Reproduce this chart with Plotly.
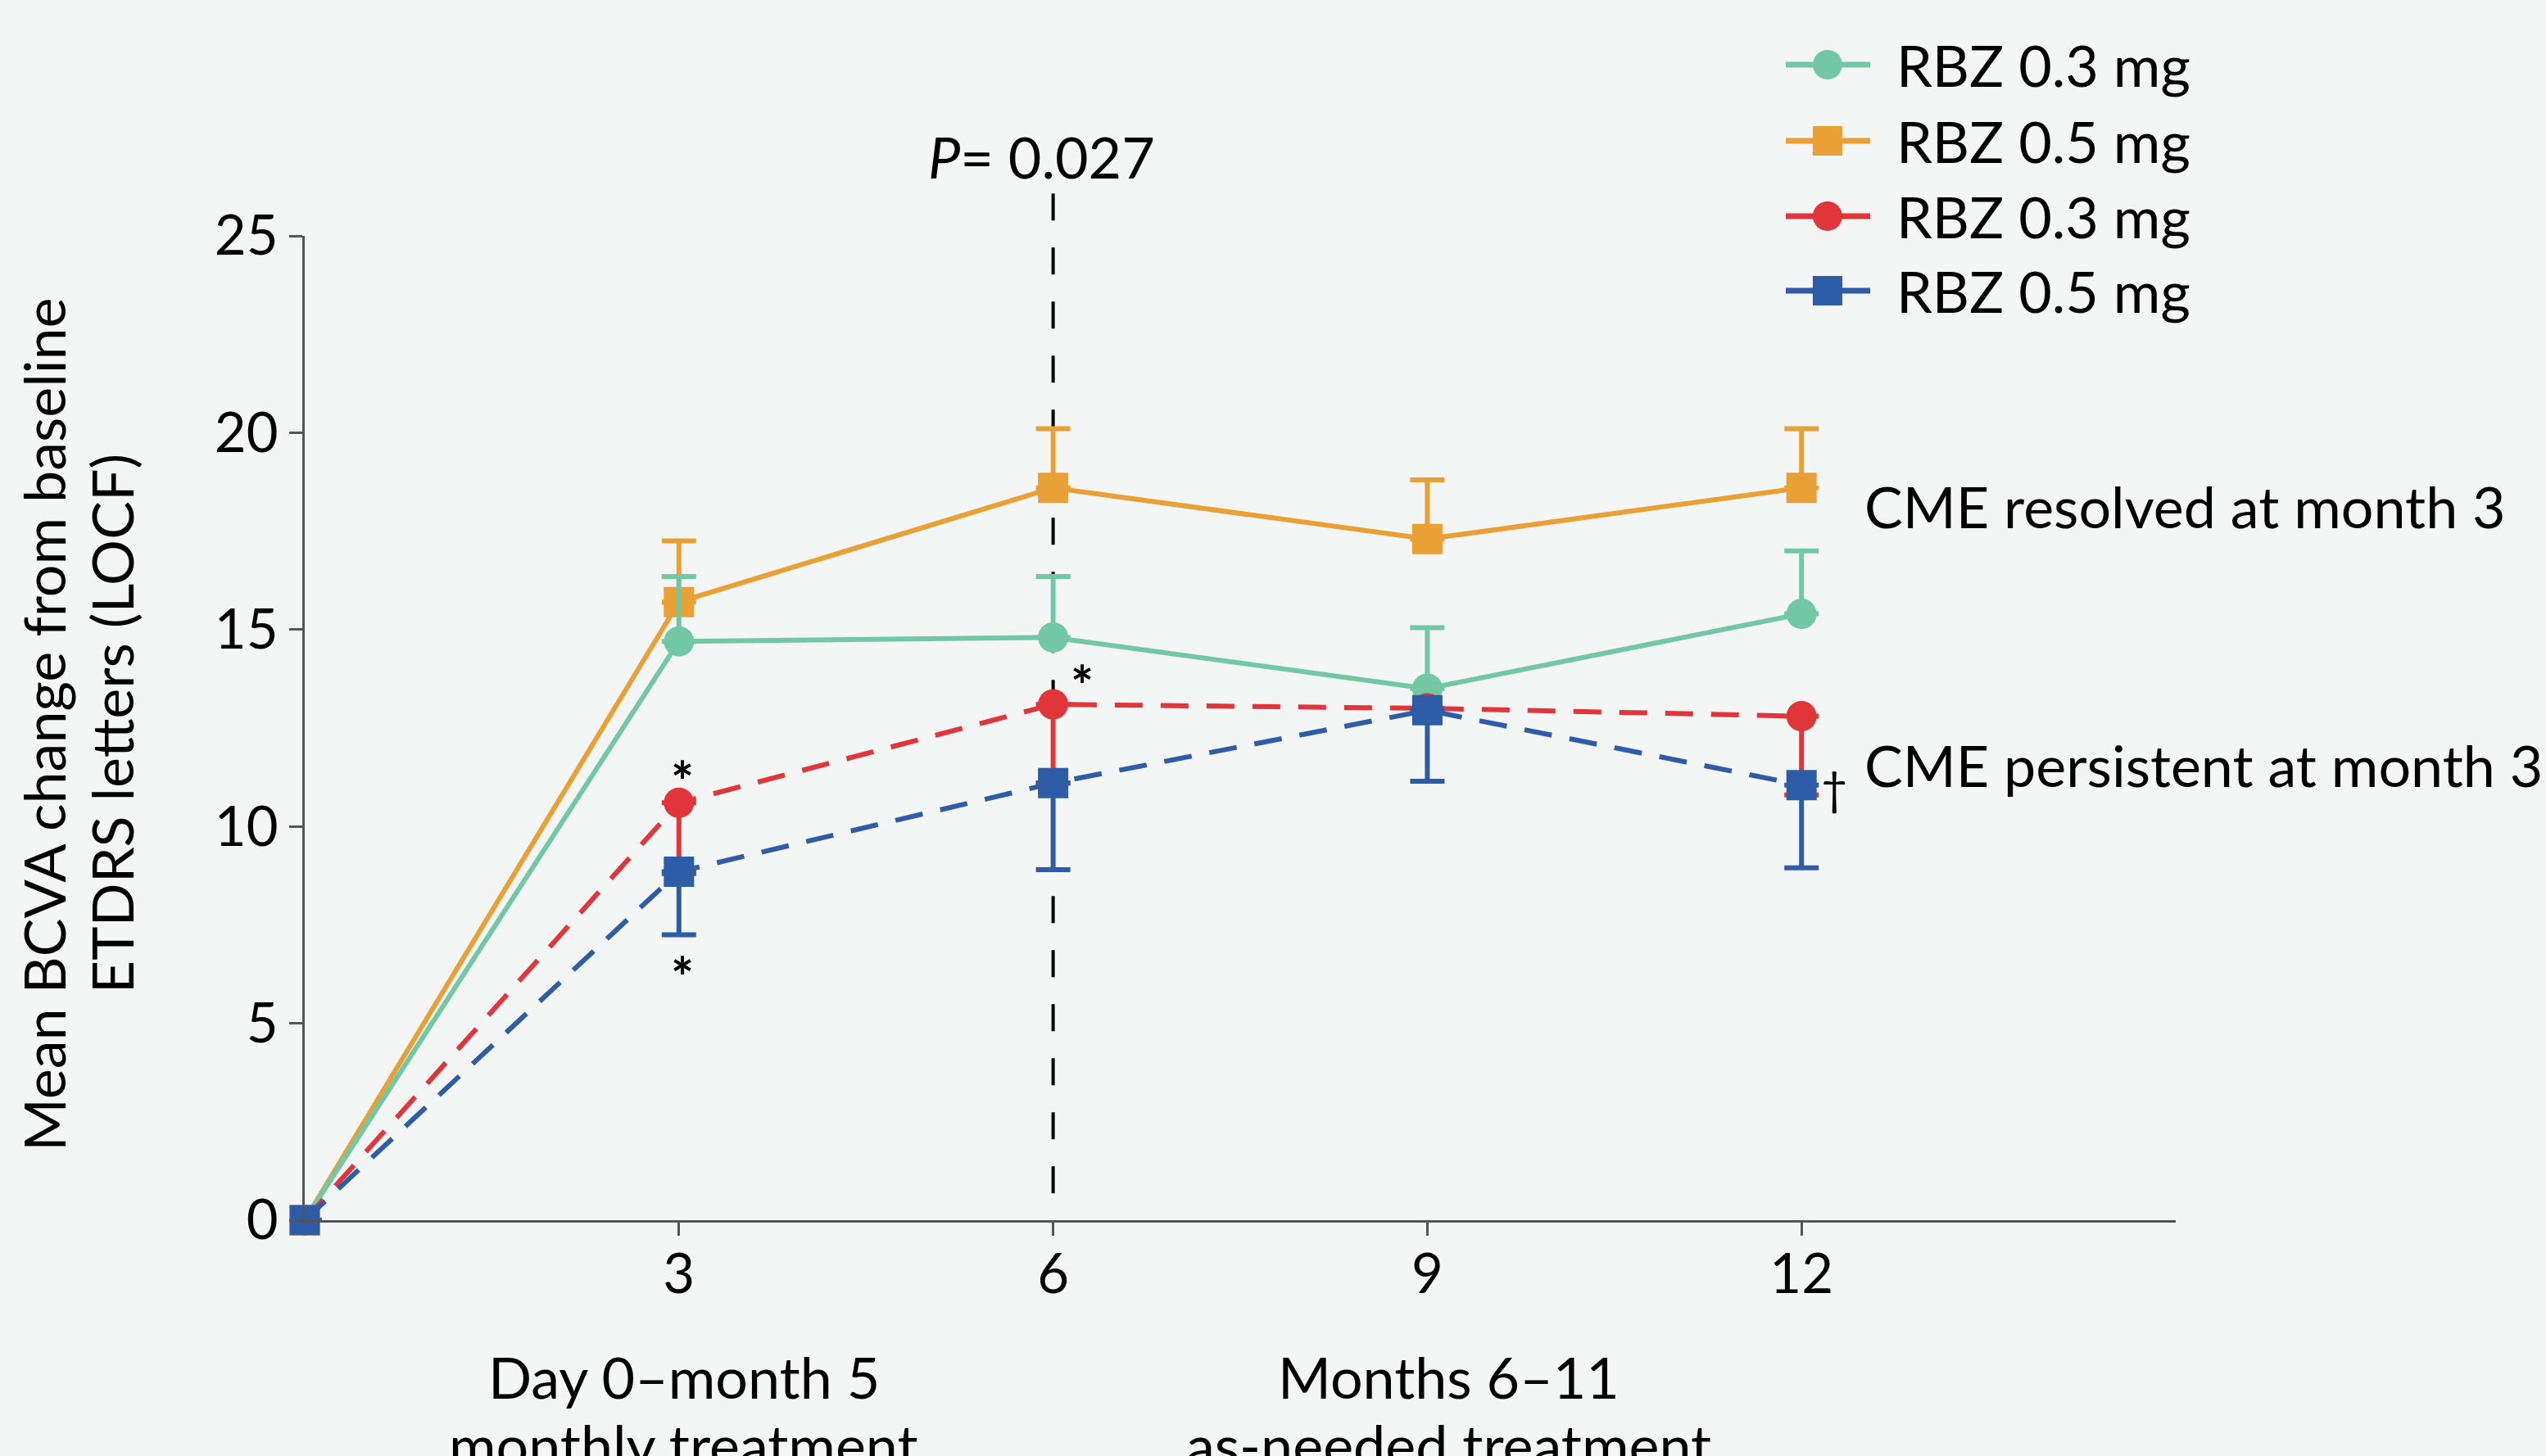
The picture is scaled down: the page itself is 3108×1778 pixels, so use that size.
import plotly.graph_objects as go

# ---------------- data ----------------
months = [0, 3, 6, 9, 12]
tick_months = [3, 6, 9, 12]
y_ticks = [0, 5, 10, 15, 20, 25]

series_names = ["RBZ 0.3 mg", "RBZ 0.5 mg", "RBZ 0.3 mg", "RBZ 0.5 mg"]
series_colors = ["#72c8a4", "#e9a035", "#e0363a", "#2f5ca6"]
series_symbols = ["circle", "square", "circle", "square"]

# CME resolved at month 3 (solid lines)
green_vals = [0, 14.7, 14.8, 13.5, 15.4]
green_err_plus = [None, 1.65, 1.55, 1.55, 1.6]
orange_vals = [0, 15.7, 18.6, 17.3, 18.6]
orange_err_plus = [None, 1.55, 1.5, 1.5, 1.5]

# CME persistent at month 3 (dashed lines)
red_vals = [0, 10.6, 13.1, 13.0, 12.8]
red_err_minus = [None, 1.8, 2.0, None, 2.0]
blue_vals = [0, 8.85, 11.1, 12.95, 11.05]
blue_err_minus = [None, 1.6, 2.2, 1.8, 2.1]

FONT = "Lato"
BG = "#f4f5f5"
TXT = 70

fig = go.Figure()


def add_series(vals, idx, dash, plus=None, minus=None):
    n = len(vals)
    err = dict(type="data", symmetric=False, color=series_colors[idx],
               thickness=6, width=21,
               array=plus if plus is not None else [None] * n,
               arrayminus=minus if minus is not None else [None] * n)
    fig.add_trace(go.Scatter(
        x=months, y=vals, mode="lines+markers", name=series_names[idx],
        line=dict(color=series_colors[idx], width=6, dash=dash),
        marker=dict(symbol=series_symbols[idx], size=37, color=series_colors[idx],
                    line=dict(width=0)),
        error_y=err, cliponaxis=False, showlegend=False,
    ))


add_series(orange_vals, 1, "solid", plus=orange_err_plus)
add_series(green_vals, 0, "solid", plus=green_err_plus)
add_series(red_vals, 2, "34px,22px", minus=red_err_minus)
add_series(blue_vals, 3, "34px,22px", minus=blue_err_minus)

shapes = []
# vertical dashed line at month 6 (drawn from the top down)
shapes.append(dict(type="line", xref="x", yref="paper", x0=6, x1=6, y0=1.043, y1=0,
                   line=dict(color="black", width=4, dash="33px,33px"), layer="below"))

# custom legend with large swatches as in the original
legend_rows = [1.1739, 1.0965, 1.0200, 0.9443]
annotations = []
for i, yrow in enumerate(legend_rows):
    c = series_colors[i]
    shapes.append(dict(type="line", xref="paper", yref="paper", x0=0.7916, x1=0.8367,
                       y0=yrow, y1=yrow, line=dict(color=c, width=7)))
    shapes.append(dict(type="circle" if series_symbols[i] == "circle" else "rect",
                       xref="paper", yref="paper", xsizemode="pixel", ysizemode="pixel",
                       xanchor=0.8139, yanchor=yrow, x0=-18, x1=18, y0=-18, y1=18,
                       fillcolor=c, line=dict(width=0)))
    annotations.append(dict(text=series_names[i], xref="paper", yref="paper", x=0.8498,
                            y=yrow, xanchor="left", yanchor="middle", showarrow=False,
                            font=dict(family=FONT, size=TXT, color="black")))


def txt(text, x, y, xref="x", yref="y", xanchor="center", size=TXT, angle=0):
    return dict(text=text, x=x, y=y, xref=xref, yref=yref, xanchor=xanchor,
                yanchor="middle", showarrow=False, textangle=angle,
                font=dict(family=FONT, size=size, color="black"))


annotations += [
    txt("<b>*</b>", 3.03, 11.15, size=66),
    txt("<b>*</b>", 3.03, 6.18, size=66),
    txt("<b>*</b>", 6.23, 13.6, size=66),
    txt("†", 12.26, 11.0, size=56),
    txt("CME resolved at month 3", 12.49, 18.14, xanchor="left"),
    txt("CME persistent at month 3", 12.49, 11.56, xanchor="left"),
    txt("<i>P</i>= 0.027", 5.91, 1.081, yref="paper"),
    txt("Day 0–month 5", 3.04, -0.159, yref="paper"),
    txt("monthly treatment", 3.04, -0.228, yref="paper"),
    txt("Months 6–11", 9.17, -0.159, yref="paper"),
    txt("as-needed treatment", 9.17, -0.228, yref="paper"),
    # y-axis title (two lines)
    txt("Mean BCVA change from baseline", -0.1397, 0.504, xref="paper", yref="paper",
        angle=-90),
    txt("ETDRS letters (LOCF)", -0.1033, 0.504, xref="paper", yref="paper", angle=-90),
]

fig.update_layout(
    width=3108, height=1778,
    margin=dict(l=372, r=452, t=288, b=288, pad=0),
    paper_bgcolor=BG, plot_bgcolor=BG,
    font=dict(family=FONT, size=TXT, color="black"),
    shapes=shapes, annotations=annotations,
    showlegend=False,
)
fig.update_xaxes(range=[0, 15], tickvals=tick_months, ticktext=[str(v) for v in tick_months],
                 showgrid=False, zeroline=False, showline=True, linecolor="#555555",
                 linewidth=3, ticks="outside", ticklen=16, tickwidth=3, tickcolor="#555555",
                 ticklabelstandoff=-10,
                 tickfont=dict(family=FONT, size=67, color="black"))
fig.update_yaxes(range=[0, 25], tickvals=y_ticks, showgrid=False, zeroline=False,
                 showline=True, linecolor="#555555", linewidth=3, ticks="outside",
                 ticklen=16, tickwidth=3, tickcolor="#555555",
                 tickfont=dict(family=FONT, size=67, color="black"))

fig.write_html("out.html", config={"displayModeBar": False},
               post_script="document.body.style.margin='0px';")
